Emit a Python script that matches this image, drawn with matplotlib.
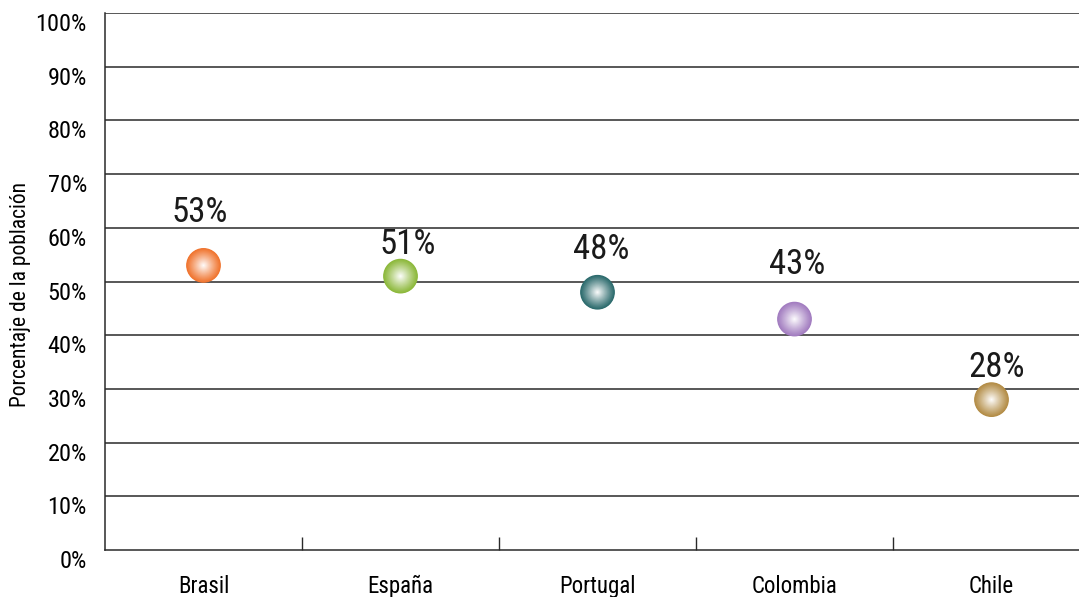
import numpy as np
import matplotlib.pyplot as plt
import matplotlib.colors as mcolors
from matplotlib.transforms import ScaledTranslation

paises = ['Brasil', 'España', 'Portugal', 'Colombia', 'Chile']
valores = [53, 51, 48, 43, 28]
etiquetas = ['53%', '51%', '48%', '43%', '28%']
yticks = [0, 10, 20, 30, 40, 50, 60, 70, 80, 90, 100]

colores = ['#F0742E', '#8CB83A', '#2B6A6C', '#A27CC0', '#B38C45']
# label offsets (points) relative to the marker, by hand from the picture
off_x = [-3, 5, 3, 2, 4]
off_y = [38, 23, 31, 39, 23]

plt.rcParams['font.family'] = ['Liberation Sans Narrow', 'Roboto Condensed', 'Roboto', 'DejaVu Sans']

fig = plt.figure(figsize=(10.79, 5.97), dpi=100)
ax = fig.add_axes([105/1079, 47/597, 985/1079, 537/597])

x = np.arange(len(paises))
ax.set_xlim(-0.5, len(paises) - 0.5)
ax.set_ylim(0, 100)

for yv in yticks[1:]:
    ax.axhline(yv, color='#2a2a2a', lw=1.1, zorder=1)

# sphere look: stacked circles fading to white toward the centre
n = 30
for i in range(len(paises)):
    base = np.array(mcolors.to_rgb(colores[i]))
    for k in range(n):
        t = k / (n - 1)
        r = 1 - t
        w = t ** 1.1
        c = base * (1 - w) + np.ones(3) * w
        ax.scatter(x[i], valores[i], s=(25 * r) ** 2, color=c,
                   edgecolors='none', zorder=3 + k / n)
    ax.annotate(etiquetas[i], (x[i], valores[i]), xytext=(off_x[i], off_y[i]),
                textcoords='offset points', ha='center', va='center',
                fontsize=25, color='#1a1a1a', zorder=5)

ax.set_xticks(x)
ax.set_xticklabels(paises, fontsize=16.5)
ax.tick_params(axis='x', which='major', length=0, pad=18)
ax.set_xticks(np.arange(0.5, len(paises) - 0.5, 1), minor=True)
ax.tick_params(axis='x', which='minor', direction='in', length=9.5, width=1, color='#2a2a2a')

ax.set_yticks(yticks)
ax.set_yticklabels([f'{v}%' for v in yticks], fontsize=17.5)
ax.tick_params(axis='y', length=0, pad=13)
shift = ScaledTranslation(0, -9/100, fig.dpi_scale_trans)
for lab in ax.get_yticklabels():
    lab.set_transform(lab.get_transform() + shift)

ax.set_ylabel('Porcentaje de la población', fontsize=15.5)
ax.yaxis.set_label_coords(-0.075, 0.475)

for s in ['top', 'right']:
    ax.spines[s].set_visible(False)
for s in ['left', 'bottom']:
    ax.spines[s].set_color('#2a2a2a')
    ax.spines[s].set_linewidth(1.1)

plt.savefig('out.png', dpi=100)
